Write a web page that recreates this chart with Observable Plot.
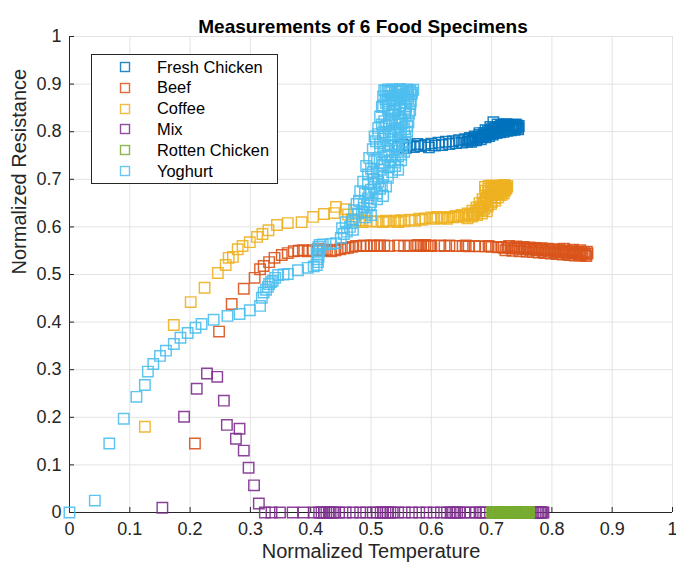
<!DOCTYPE html>
<html><head><meta charset="utf-8">
<script src="https://cdn.jsdelivr.net/npm/d3@7"></script>
<script src="https://cdn.jsdelivr.net/npm/@observablehq/plot@0.6"></script>
<style>
body{margin:0;background:#fff;font-family:"Liberation Sans",Arial,sans-serif;}
#wrap{position:relative;width:676px;height:570px;}
#legend{position:absolute;left:91px;top:54px;width:187px;height:130px;border:1px solid #262626;background:#fff;box-sizing:border-box;}
.row{position:absolute;left:0;height:20px;display:flex;align-items:center;font-size:16.4px;color:#000;}
.row svg{position:absolute;left:27px;}
.row span{position:absolute;left:65px;white-space:nowrap;}
</style></head><body><div id="wrap"><div id="legend"></div></div>
<script>
const seriesNames = ["Fresh Chicken","Beef","Coffee","Mix","Rotten Chicken","Yoghurt"];
const seriesColors = ["#0072BD","#D95319","#EDB120","#7E2F8E","#77AC30","#4DBEEE"];
const axisTicks = [0,0.1,0.2,0.3,0.4,0.5,0.6,0.7,0.8,0.9,1];
const titleText = "Measurements of 6 Food Specimens";
const xLabel = "Normalized Temperature";
const yLabel = "Normalized Resistance";

const freshChicken = [[0.545,0.769],[0.552,0.773],[0.558,0.766],[0.564,0.771],[0.571,0.768],[0.577,0.774],[0.583,0.77],[0.59,0.772],[0.596,0.767],[0.6,0.775],[0.606,0.771],[0.612,0.777],[0.618,0.772],[0.624,0.779],[0.63,0.774],[0.636,0.78],[0.641,0.776],[0.646,0.782],[0.651,0.777],[0.656,0.784],[0.66,0.779],[0.664,0.787],[0.668,0.782],[0.672,0.79],[0.676,0.785],[0.68,0.793],[0.684,0.788],[0.688,0.797],[0.691,0.792],[0.694,0.801],[0.697,0.795],[0.7,0.805],[0.703,0.798],[0.706,0.808],[0.709,0.8],[0.712,0.81],[0.715,0.802],[0.718,0.812],[0.721,0.804],[0.724,0.813],[0.727,0.805],[0.73,0.813],[0.733,0.806],[0.736,0.814],[0.739,0.807],[0.742,0.813],[0.744,0.808],[0.703,0.82],[0.72,0.815],[0.735,0.81],
[0.662,0.783],[0.666,0.779],[0.67,0.786],[0.674,0.782],[0.678,0.789],[0.682,0.784],[0.686,0.792],[0.69,0.788],[0.693,0.797],[0.696,0.791],[0.699,0.8],[0.702,0.794],[0.705,0.804],[0.708,0.797],[0.711,0.806],[0.714,0.799],[0.717,0.808],[0.72,0.8],[0.723,0.809],[0.726,0.802],[0.729,0.81],[0.732,0.803],[0.735,0.81],[0.738,0.804],[0.741,0.81],[0.744,0.805],[0.745,0.812],[0.71,0.815],[0.725,0.816],[0.74,0.815],[0.698,0.81],[0.715,0.813],[0.69,0.803],[0.68,0.797]];

const beef = [[0.208,0.145],[0.248,0.38],[0.269,0.438],[0.289,0.47],[0.307,0.493],[0.316,0.511],[0.322,0.518],[0.331,0.526],[0.34,0.535],[0.352,0.541],[0.362,0.545],[0.372,0.549],[0.38,0.55],[0.387,0.551],[0.395,0.549],[0.403,0.551],[0.412,0.553],[0.42,0.551],[0.427,0.552],[0.434,0.549],[0.441,0.551],[0.449,0.553],[0.456,0.555],[0.462,0.556],[0.469,0.558],[0.475,0.56],[0.482,0.56],[0.488,0.561],[0.493,0.56],[0.5,0.561],[0.505,0.561],[0.51,0.56],[0.515,0.561],[0.522,0.561],[0.53,0.56],[0.545,0.561],[0.555,0.56],[0.565,0.561],[0.575,0.56],[0.578,0.562],[0.583,0.561],[0.587,0.56],[0.59,0.562],[0.594,0.56],[0.598,0.561],[0.6,0.56],[0.615,0.561],[0.622,0.56],[0.63,0.561],[0.642,0.56],[0.652,0.56],[0.657,0.561],[0.662,0.559],[0.672,0.56],[0.68,0.559],[0.69,0.559],[0.695,0.56],[0.7,0.558],[0.71,0.557],[0.716,0.558],[0.72,0.556],[0.726,0.557],[0.732,0.555],[0.738,0.556],[0.744,0.554],[0.75,0.556],[0.755,0.553],[0.76,0.555],[0.765,0.552],[0.77,0.554],[0.775,0.551],[0.78,0.553],[0.785,0.55],[0.79,0.552],[0.795,0.548],[0.8,0.551],[0.805,0.547],[0.81,0.549],[0.815,0.546],[0.82,0.548],[0.825,0.545],[0.83,0.547],[0.835,0.544],[0.84,0.546],[0.845,0.543],[0.85,0.545],[0.855,0.542],[0.859,0.544],
[0.723,0.551],[0.729,0.56],[0.735,0.55],[0.741,0.559],[0.747,0.549],[0.753,0.558],[0.758,0.548],[0.763,0.557],[0.768,0.547],[0.773,0.556],[0.778,0.546],[0.783,0.555],[0.788,0.545],[0.793,0.554],[0.798,0.544],[0.803,0.553],[0.808,0.543],[0.813,0.552],[0.818,0.542],[0.823,0.55],[0.828,0.541],[0.833,0.549],[0.838,0.54],[0.843,0.548],[0.848,0.54],[0.853,0.547],[0.857,0.539],[0.858,0.548],[0.847,0.551],[0.835,0.552],[0.82,0.554]];

const coffee = [[0.125,0.18],[0.173,0.394],[0.201,0.442],[0.224,0.472],[0.246,0.503],[0.259,0.52],[0.264,0.535],[0.271,0.537],[0.279,0.553],[0.287,0.56],[0.299,0.568],[0.311,0.579],[0.32,0.585],[0.33,0.593],[0.344,0.604],[0.362,0.608],[0.385,0.61],[0.404,0.621],[0.422,0.627],[0.439,0.629],[0.442,0.642],[0.458,0.637],[0.462,0.626],[0.468,0.616],[0.474,0.612],[0.48,0.614],[0.486,0.61],[0.492,0.613],[0.5,0.611],[0.51,0.612],[0.52,0.61],[0.525,0.613],[0.53,0.611],[0.54,0.613],[0.545,0.61],[0.55,0.614],[0.555,0.612],[0.565,0.615],[0.573,0.613],[0.58,0.617],[0.585,0.615],[0.59,0.618],[0.6,0.62],[0.605,0.617],[0.61,0.621],[0.616,0.618],[0.62,0.62],[0.626,0.617],[0.63,0.621],[0.636,0.62],[0.64,0.623],[0.645,0.621],[0.65,0.625],[0.655,0.622],[0.66,0.628],[0.664,0.625],[0.668,0.634],[0.672,0.629],[0.675,0.641],[0.678,0.636],[0.68,0.65],[0.683,0.643],[0.685,0.658],[0.688,0.652],[0.69,0.666],[0.692,0.66],[0.694,0.673],[0.697,0.667],[0.699,0.68],[0.702,0.674],[0.705,0.684],[0.708,0.679],[0.711,0.686],[0.714,0.682],[0.717,0.687],[0.72,0.683],[0.723,0.686],[0.725,0.682],[0.726,0.686],[0.689,0.684],[0.695,0.686],[0.7,0.687],[0.712,0.668],[0.706,0.66],[0.7,0.652],[0.694,0.645],[0.688,0.638],[0.717,0.672],[0.722,0.676],
[0.69,0.676],[0.695,0.68],[0.703,0.682],[0.708,0.686],[0.716,0.684],[0.721,0.688],[0.724,0.68],[0.72,0.678],[0.714,0.675],[0.709,0.672],[0.703,0.668],[0.698,0.662],[0.692,0.655],[0.686,0.648],[0.681,0.64],[0.676,0.634],[0.67,0.626],[0.685,0.635],[0.692,0.642],[0.699,0.648],[0.706,0.655],[0.711,0.662],[0.716,0.667],[0.72,0.67],[0.7,0.662],[0.707,0.67],[0.713,0.678],[0.718,0.682],[0.66,0.618],[0.668,0.622],[0.676,0.625],[0.684,0.628],[0.692,0.633]];

const mix = [[0.154,0.01],[0.19,0.201],[0.211,0.26],[0.228,0.292],[0.245,0.285],[0.256,0.235],[0.261,0.184],[0.282,0.176],[0.276,0.155],[0.289,0.13],[0.297,0.094],[0.306,0.057],[0.314,0.019],[0.324,0],[0.335,0],[0.349,0],[0.37,0],[0.388,0],[0.405,0],[0.414,0],[0.418,0],[0.422,0],[0.426,0],[0.43,0],[0.433,0],[0.437,0],[0.44,0],[0.447,0],[0.458,0],[0.47,0],[0.482,0],[0.492,0],[0.503,0],[0.51,0],[0.516,0],[0.52,0],[0.524,0],[0.528,0],[0.532,0],[0.536,0],[0.545,0],[0.556,0],[0.568,0],[0.58,0],[0.592,0],[0.604,0],[0.616,0],[0.626,0],[0.632,0],[0.636,0],[0.64,0],[0.643,0],[0.647,0],[0.655,0],[0.665,0],[0.674,0],[0.68,0],[0.686,0],[0.69,0],[0.72,0],[0.75,0],[0.772,0],[0.775,0],[0.777,0],[0.78,0],[0.782,0],[0.784,0],[0.786,0]];

const rottenChicken = [[0.701,0],[0.7024,0],[0.7038,0],[0.7053,0],[0.7067,0],[0.7081,0],[0.7096,0],[0.711,0],[0.7124,0],[0.7139,0],[0.7153,0],[0.7167,0],[0.7182,0],[0.7196,0],[0.721,0],[0.7225,0],[0.7239,0],[0.7253,0],[0.7268,0],[0.7282,0],[0.7296,0],[0.7311,0],[0.7325,0],[0.7339,0],[0.7354,0],[0.7368,0],[0.7382,0],[0.7397,0],[0.7411,0],[0.7425,0],[0.744,0],[0.7454,0],[0.7468,0],[0.7483,0],[0.7497,0],[0.7511,0],[0.7526,0],[0.754,0],[0.7554,0],[0.7569,0],[0.7583,0],[0.7597,0],[0.7612,0],[0.7622,0]];

const yoghurt = [[0,0],[0.042,0.025],[0.066,0.145],[0.09,0.197],[0.111,0.243],[0.125,0.268],[0.13,0.296],[0.139,0.312],[0.15,0.329],[0.16,0.34],[0.173,0.354],[0.184,0.367],[0.196,0.377],[0.209,0.388],[0.219,0.396],[0.239,0.405],[0.262,0.413],[0.282,0.417],[0.299,0.425],[0.316,0.434],[0.319,0.451],[0.322,0.462],[0.326,0.468],[0.329,0.474],[0.331,0.48],[0.334,0.484],[0.337,0.487],[0.341,0.493],[0.346,0.499],[0.355,0.5],[0.362,0.501],[0.379,0.509],[0.395,0.514],[0.405,0.517],[0.41,0.52],[0.412,0.526],[0.411,0.532],[0.413,0.537],[0.412,0.543],[0.414,0.548],[0.41,0.552],[0.413,0.558],[0.415,0.562],[0.42,0.563],[0.434,0.564],[0.442,0.566],[0.45,0.577],[0.455,0.585],[0.46,0.59],[0.452,0.597],[0.465,0.6],[0.47,0.594],[0.458,0.61],[0.468,0.608],
[0.47,0.615],[0.49,0.62],[0.5,0.625],[0.478,0.628],[0.472,0.635],[0.488,0.64],[0.498,0.645],[0.476,0.648],[0.48,0.655],
[0.495,0.66],[0.51,0.658],[0.52,0.665],[0.49,0.67],[0.482,0.675],[0.5,0.678],[0.515,0.68],[0.525,0.685],[0.495,0.69],[0.487,0.695],[0.505,0.7],[0.528,0.703],
[0.495,0.71],[0.51,0.712],[0.535,0.715],[0.545,0.72],[0.5,0.722],[0.492,0.728],[0.52,0.73],[0.54,0.735],[0.55,0.74],[0.51,0.742],[0.497,0.745],[0.525,0.75],
[0.55,0.752],[0.555,0.758],[0.53,0.76],[0.503,0.763],[0.515,0.768],[0.54,0.772],[0.556,0.778],[0.545,0.782],[0.52,0.785],[0.506,0.79],[0.53,0.793],[0.55,0.796],[0.56,0.8],
[0.54,0.805],[0.512,0.808],[0.525,0.812],[0.548,0.815],[0.562,0.82],[0.55,0.825],[0.53,0.828],[0.515,0.832],[0.535,0.836],[0.556,0.84],[0.565,0.845],[0.54,0.848],[0.518,0.852],
[0.53,0.856],[0.55,0.86],[0.566,0.864],[0.555,0.868],[0.535,0.87],[0.52,0.874],[0.54,0.876],[0.558,0.879],[0.568,0.882],[0.55,0.884],[0.53,0.885],[0.522,0.887],[0.535,0.889],[0.548,0.89],[0.56,0.889],[0.57,0.888],[0.565,0.886],[0.545,0.887],[0.528,0.889],
[0.525,0.886],[0.532,0.883],[0.54,0.887],[0.552,0.885],[0.562,0.884],[0.567,0.878],[0.56,0.874],[0.548,0.872],[0.538,0.866],[0.528,0.864],[0.524,0.868],[0.533,0.875],[0.545,0.878],[0.555,0.875],[0.562,0.87],[0.565,0.858],[0.558,0.853],[0.548,0.855],[0.538,0.858],[0.525,0.86],[0.52,0.855],[0.528,0.847],[0.537,0.843],[0.548,0.845],[0.558,0.848],[0.563,0.838],[0.557,0.832],[0.545,0.83],[0.535,0.824],[0.522,0.822],[0.518,0.815],[0.53,0.818],[0.54,0.82],[0.552,0.818],[0.56,0.812],[0.555,0.805],[0.545,0.8],[0.533,0.8],[0.52,0.798],[0.512,0.795],[0.523,0.79],[0.535,0.786],[0.548,0.788],[0.557,0.79],[0.552,0.77],[0.542,0.764],[0.528,0.77],[0.515,0.776],[0.508,0.78],[0.522,0.758],[0.535,0.752],[0.545,0.748],[0.532,0.74],[0.518,0.735],[0.505,0.738],[0.53,0.725],[0.54,0.728],[0.515,0.72],[0.503,0.715],[0.52,0.705],[0.512,0.695],[0.518,0.688],[0.505,0.684],[0.497,0.672],[0.51,0.67],[0.5,0.652],[0.488,0.648],[0.485,0.632],[0.493,0.63]];

const seriesData = [freshChicken, beef, coffee, mix, rottenChicken, yoghurt];
const rows = seriesData.map((pts, i) => pts.map(([x, y]) => ({series: seriesNames[i], x, y})));

const dotMarks = rows.map((r, i) => Plot.dot(r, {
  x: "x", y: "y", symbol: "square", r: 5.9, fill: "none",
  stroke: seriesColors[i], strokeWidth: 1.45, strokeOpacity: i === 4 ? 1 : 0.9
}));

const fmt = d => String(d);
const chart = Plot.plot({
  width: 676, height: 570,
  marginLeft: 69, marginRight: 4, marginTop: 36, marginBottom: 58,
  x: {domain: [0, 1]},
  y: {domain: [0, 1]},
  style: {fontFamily: "'Liberation Sans', Arial, sans-serif", background: "#fff", overflow: "visible", color: "#262626"},
  marks: [
    Plot.gridX(axisTicks, {stroke: "#e3e3e3", strokeOpacity: 1}),
    Plot.gridY(axisTicks, {stroke: "#e3e3e3", strokeOpacity: 1}),
    Plot.axisX(axisTicks, {tickSize: 0, tickPadding: 10, tickFormat: fmt, fontSize: 18, label: null, fill: "#262626"}),
    Plot.axisY(axisTicks, {tickSize: 0, tickPadding: 8, tickFormat: fmt, fontSize: 18, label: null, fill: "#262626"}),
    Plot.axisX(axisTicks, {tickSize: -5, tickFormat: () => "", label: null, stroke: "#262626"}),
    Plot.axisY(axisTicks, {tickSize: -5, tickFormat: () => "", label: null, stroke: "#262626"}),
    Plot.ruleX([0], {stroke: "#262626"}),
    Plot.ruleY([0], {stroke: "#262626"}),
    ...dotMarks,
    Plot.text([titleText], {frameAnchor: "top", dy: -17, dx: -8, fontSize: 19, fontWeight: "bold", fill: "#000"}),
    Plot.text([xLabel], {frameAnchor: "bottom", dy: 45, fontSize: 20, fill: "#262626"}),
    Plot.text([yLabel], {frameAnchor: "left", dx: -50, rotate: -90, fontSize: 20, fill: "#262626"})
  ]
});
document.getElementById("wrap").prepend(chart);

const legend = document.getElementById("legend");
seriesNames.forEach((name, i) => {
  const row = document.createElement("div");
  row.className = "row";
  row.style.top = (2 + i * 20.8) + "px";
  row.style.width = "185px";
  row.innerHTML = `<svg width="12" height="12"><rect x="1.5" y="1.5" width="9" height="9" fill="none" stroke="${seriesColors[i]}" stroke-width="1.4" stroke-opacity="0.85"/></svg><span>${name}</span>`;
  legend.appendChild(row);
});
</script></body></html>
